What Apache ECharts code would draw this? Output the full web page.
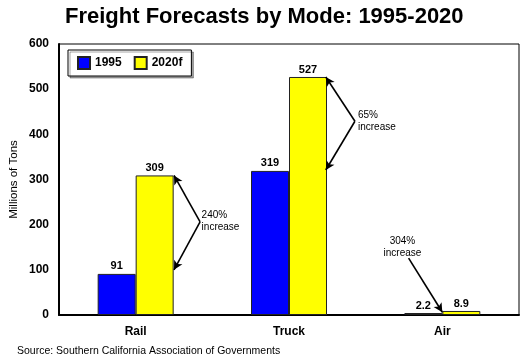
<!DOCTYPE html>
<html><head><meta charset="utf-8">
<script src="https://cdn.jsdelivr.net/npm/echarts@6/dist/echarts.min.js"></script>
<style>html,body{margin:0;padding:0;background:#fff}#c{width:530px;height:364px}</style>
</head><body><div id="c"></div>
<script>
var categories = ['Rail', 'Truck', 'Air'];
var values1995 = [91, 319, 2.2];
var values2020 = [309, 527, 8.9];
var yTicks = [0, 100, 200, 300, 400, 500, 600];
// annotation callouts in data space: [x (0..3 across categories), y (tons)]
var railArrow = [[0.75, 309], [0.92, 206], [0.75, 100]];
var truckArrow = [[1.74, 527], [1.93, 429], [1.74, 321]];
var airArrow = [[2.28, 126], [2.50, 6]];
var notes = [
  {pos: [0.93, 207], text: '240%\nincrease', align: 'left'},
  {pos: [1.95, 428], text: '65%\nincrease', align: 'left'},
  {pos: [2.24, 149], text: '304%\nincrease', align: 'center'}
];

var F = 'Arial, "Liberation Sans", sans-serif';
var chart = echarts.init(document.getElementById('c'));
function seg(a, b, sa, sb) {
  return [{coord: a, symbol: sa}, {coord: b, symbol: sb}];
}
chart.setOption({
  animation: false,
  textStyle: {fontFamily: F, color: '#000'},
  title: {
    text: 'Freight Forecasts by Mode: 1995-2020',
    left: 60, top: 1,
    textStyle: {fontFamily: F, fontSize: 22, fontWeight: 'bold', color: '#000'}
  },
  graphic: [{
    type: 'text', left: 17, top: 346,
    style: {text: 'Source: Southern California Association of Governments', font: '10.5px ' + F, fill: '#000'}
  }],
  legend: {
    left: 68, top: 50,
    data: ['1995', '2020f'],
    itemWidth: 12, itemHeight: 12, itemGap: 12,
    padding: [6, 9, 6, 9],
    borderColor: '#000', borderWidth: 1,
    backgroundColor: '#fff',
    shadowColor: 'rgba(0,0,0,0.35)', shadowOffsetX: 2, shadowOffsetY: 2, shadowBlur: 0,
    icon: 'rect',
    textStyle: {fontFamily: F, fontSize: 12, fontWeight: 'bold', color: '#000'}
  },
  grid: {left: 57, right: 11, top: 44, bottom: 49, show: true, borderColor: '#000', borderWidth: 1, containLabel: false},
  xAxis: [{
    type: 'category', data: categories,
    axisLine: {lineStyle: {color: '#000', width: 2}},
    axisTick: {show: false},
    axisLabel: {fontFamily: F, fontSize: 12, fontWeight: 'bold', color: '#000', margin: 11}
  }, {
    type: 'value', min: 0, max: 3, show: false
  }],
  yAxis: {
    type: 'value', min: 0, max: 600, interval: 100,
    name: 'Millions of Tons', nameLocation: 'middle', nameGap: 39, nameMoveOverlap: false,
    nameTextStyle: {fontFamily: F, fontSize: 11.5, color: '#000'},
    axisLine: {show: true, lineStyle: {color: '#000', width: 2}},
    axisTick: {show: false},
    splitLine: {show: false},
    axisLabel: {fontFamily: F, fontSize: 12, fontWeight: 'bold', color: '#000', margin: 10,
      formatter: function (v) { return yTicks.indexOf(v) >= 0 ? String(v) : ''; }}
  },
  series: [{
    name: '1995', type: 'bar', data: values1995,
    barWidth: 38, barGap: '0%', barMinHeight: 2, z: 3,
    itemStyle: {color: '#0000FF', borderColor: '#222', borderWidth: 1},
    label: {show: true, position: 'top', distance: 2, fontFamily: F, fontSize: 11, fontWeight: 'bold', color: '#000'}
  }, {
    name: '2020f', type: 'bar', data: values2020,
    barWidth: 38, z: 3,
    itemStyle: {color: '#FFFF00', borderColor: '#222', borderWidth: 1},
    label: {show: true, position: 'top', distance: 2, fontFamily: F, fontSize: 11, fontWeight: 'bold', color: '#000'}
  }, {
    name: 'notes', type: 'scatter', xAxisIndex: 1, yAxisIndex: 0,
    symbolSize: 0, silent: true,
    itemStyle: {opacity: 1},
    data: notes.map(function (n) {
      return {value: n.pos, label: {show: true, position: 'inside', formatter: n.text, align: n.align,
        fontFamily: F, fontSize: 10, color: '#000', lineHeight: 12}};
    }),
    markLine: {
      silent: true, animation: false,
      symbolSize: [7, 9],
      lineStyle: {color: '#000', width: 1.6, type: 'solid', opacity: 1},
      label: {show: false},
      data: [
        seg(railArrow[0], railArrow[1], 'arrow', 'none'),
        seg(railArrow[1], railArrow[2], 'none', 'arrow'),
        seg(truckArrow[0], truckArrow[1], 'arrow', 'none'),
        seg(truckArrow[1], truckArrow[2], 'none', 'arrow'),
        seg(airArrow[0], airArrow[1], 'none', 'arrow')
      ]
    }
  }]
});
</script>
</body></html>
